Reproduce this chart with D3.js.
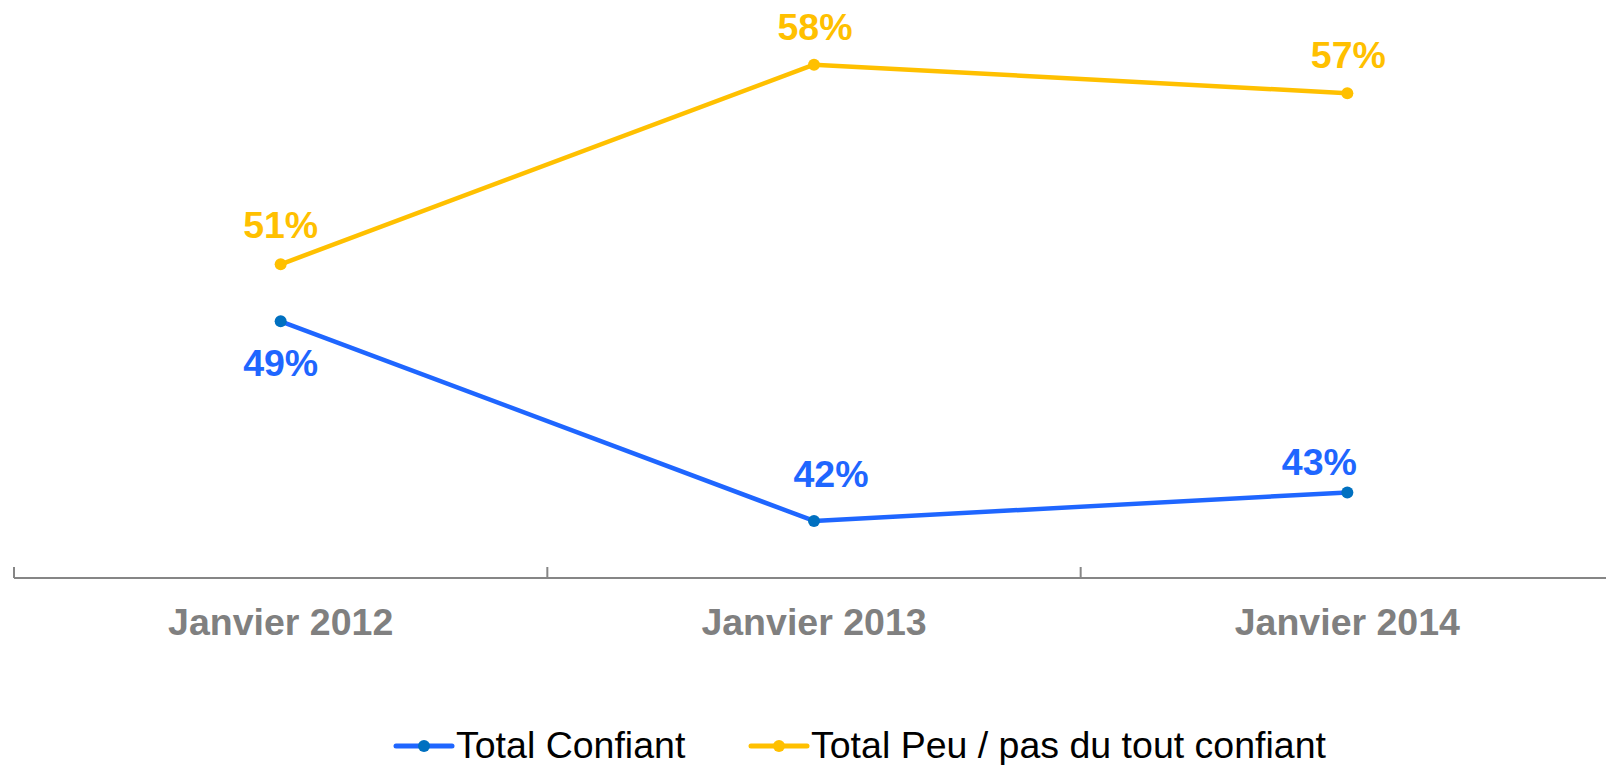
<!DOCTYPE html>
<html>
<head>
<meta charset="utf-8">
<script src="https://cdn.jsdelivr.net/npm/d3@7"></script>
<style>
    html, body { margin: 0; padding: 0; background: #ffffff; }
    svg { display: block; font-family: "Liberation Sans", Arial, sans-serif; }
</style>
</head>
<body>
<div id="chart"></div>
<script>
// chart data
var categories = ["Janvier 2012", "Janvier 2013", "Janvier 2014"];
var seriesNames = ["Total Confiant", "Total Peu / pas du tout confiant"];
var confiant = [49, 42, 43];
var peuConfiant = [51, 58, 57];

var app = app || {};

/**
 * LineChart module
 */
app.LineChartModule = (function () {
    'use strict';

    var init = function (baseElement) {
        var config = configure(d3.select(baseElement));
        structure(config);
        axis(config);
        lines(config);
        labels(config);
        legend(config);
        return config;
    };

    var configure = function (base) {
        var colors, series;

        colors = {
            blueLine: "#1f66ff",
            blueDot: "#0070c0",
            yellow: "#ffc000",
            axis: "#868686",
            axisText: "#808080"
        };

        series = [
            { name: seriesNames[0], values: confiant, line: colors.blueLine, dot: colors.blueDot,
              // label nudges [dx, dy] relative to the point
              nudge: [[0, 55], [17, -34], [-28, -17]] },
            { name: seriesNames[1], values: peuConfiant, line: colors.yellow, dot: colors.yellow,
              nudge: [[0, -26], [1, -25], [1, -25]] }
        ];

        return {
            base: base,
            width: 1606,
            height: 765,
            fontSize: 37.5,
            colors: colors,
            series: series,
            x: d3.scaleBand().domain(categories).range([14, 1614]),
            y: d3.scaleLinear().domain([40, 60]).range([578, 7.6])
        };
    };

    var structure = function (config) {
        config.svg = config.base.append("svg")
            .attr("width", config.width)
            .attr("height", config.height);
    };

    var axis = function (config) {
        var g, edges;
        g = config.svg.append("g").attr("class", "x-axis");

        g.append("line")
            .attr("x1", config.x.range()[0])
            .attr("x2", config.x.range()[1])
            .attr("y1", config.y(40))
            .attr("y2", config.y(40))
            .attr("stroke", config.colors.axis)
            .attr("stroke-width", 2);

        // tick marks at the category boundaries
        edges = categories.map(function (c) { return config.x(c); });
        edges.push(config.x.range()[1]);
        g.selectAll("line.tick")
            .data(edges)
            .enter()
            .append("line")
            .attr("class", "tick")
            .attr("x1", function (d) { return d; })
            .attr("x2", function (d) { return d; })
            .attr("y1", config.y(40) - 11)
            .attr("y2", config.y(40))
            .attr("stroke", config.colors.axis)
            .attr("stroke-width", 2);

        g.selectAll("text")
            .data(categories)
            .enter()
            .append("text")
            .attr("x", function (d) { return config.x(d) + config.x.bandwidth() / 2; })
            .attr("y", 635)
            .attr("text-anchor", "middle")
            .attr("font-size", config.fontSize)
            .attr("font-weight", "bold")
            .attr("fill", config.colors.axisText)
            .text(function (d) { return d; });
    };

    var px = function (config, i) {
        return config.x(categories[i]) + config.x.bandwidth() / 2;
    };

    var lines = function (config) {
        var line = d3.line()
            .x(function (d, i) { return px(config, i); })
            .y(function (d) { return config.y(d); });

        config.series.forEach(function (s) {
            var g = config.svg.append("g");
            g.append("path")
                .datum(s.values)
                .attr("d", line)
                .attr("fill", "none")
                .attr("stroke", s.line)
                .attr("stroke-width", 4.5)
                .attr("stroke-linejoin", "round");

            g.selectAll("circle")
                .data(s.values)
                .enter()
                .append("circle")
                .attr("cx", function (d, i) { return px(config, i); })
                .attr("cy", function (d) { return config.y(d); })
                .attr("r", 6)
                .attr("fill", s.dot);
        });
    };

    var labels = function (config) {
        config.series.forEach(function (s) {
            config.svg.append("g")
                .selectAll("text")
                .data(s.values)
                .enter()
                .append("text")
                .attr("x", function (d, i) { return px(config, i) + s.nudge[i][0]; })
                .attr("y", function (d, i) { return config.y(d) + s.nudge[i][1]; })
                .attr("text-anchor", "middle")
                .attr("font-size", config.fontSize)
                .attr("font-weight", "bold")
                .attr("fill", s.line)
                .text(function (d) { return d + "%"; });
        });
    };

    var legend = function (config) {
        var starts = [396, 751];
        config.series.forEach(function (s, i) {
            var g = config.svg.append("g")
                .attr("transform", "translate(" + starts[i] + ",746)");
            g.append("line")
                .attr("x1", 0).attr("x2", 56)
                .attr("y1", 0).attr("y2", 0)
                .attr("stroke", s.line)
                .attr("stroke-width", 5)
                .attr("stroke-linecap", "round");
            g.append("circle")
                .attr("cx", 28).attr("cy", 0)
                .attr("r", 6)
                .attr("fill", s.dot);
            g.append("text")
                .attr("x", 60)
                .attr("y", 12)
                .attr("font-size", config.fontSize)
                .attr("fill", "#000000")
                .text(s.name);
        });
    };

    return {
        init: init
    };
}());

app.LineChartModule.init("#chart");
</script>
</body>
</html>
